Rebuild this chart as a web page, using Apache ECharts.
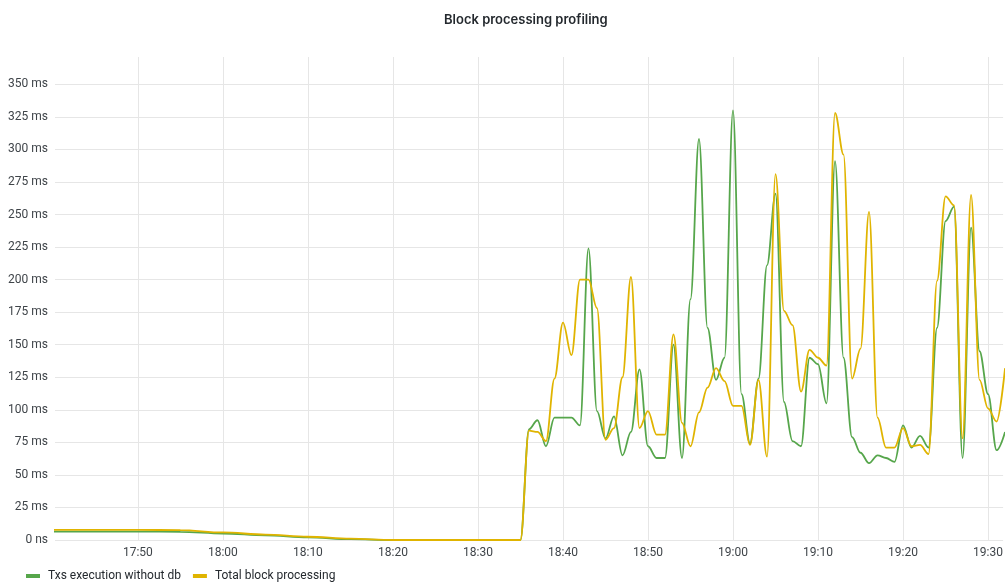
<!DOCTYPE html>
<html>
<head>
<meta charset="utf-8">
<script src="https://cdn.jsdelivr.net/npm/echarts@6/dist/echarts.min.js"></script>
<style>
  html, body { margin: 0; padding: 0; background: #ffffff; }
  #chart { width: 1006px; height: 584px; }
</style>
</head>
<body>
<div id="chart"></div>
<script>
const titleText = 'Block processing profiling';
const seriesNames = ['Txs execution without db', 'Total block processing'];
const seriesColors = ['#56A64B', '#E0B400'];

const times = [
  '17:40','17:45','17:50','17:55','18:00','18:05','18:10','18:15','18:20','18:25','18:30',
  '18:35','18:36','18:37','18:38','18:39','18:40','18:41','18:42','18:43','18:44',
  '18:45','18:46','18:47','18:48','18:49','18:50','18:51','18:52','18:53','18:54',
  '18:55','18:56','18:57','18:58','18:59','19:00','19:01','19:02','19:03','19:04',
  '19:05','19:06','19:07','19:08','19:09','19:10','19:11','19:12','19:13','19:14',
  '19:15','19:16','19:17','19:18','19:19','19:20','19:21','19:22','19:23','19:24',
  '19:25','19:26','19:27','19:28','19:29','19:30','19:31','19:32'
];

const txsExecution = [
  6.5, 6.5, 6.5, 6.3, 5.0, 3.6, 2.0, 0.6, 0, 0, 0,
  0, 85, 92, 72, 94, 94, 94, 88, 224, 99,
  78, 95, 65, 83, 131, 72, 63, 63, 150, 63,
  185, 308, 163, 123, 140, 330, 112, 74, 124, 211,
  266, 106, 76, 72, 140, 135, 105, 291, 140, 79,
  67, 59, 65, 63, 60, 88, 71, 80, 71, 163,
  245, 256, 63, 240, 145, 112, 69, 83
];

const totalBlock = [
  7.8, 7.8, 7.8, 7.6, 5.8, 4.2, 2.5, 1.0, 0, 0, 0,
  0, 84, 83, 76, 124, 167, 142, 200, 200, 178,
  77, 86, 125, 202, 86, 99, 81, 81, 158, 90,
  72, 98, 117, 132, 122, 103, 103, 73, 123, 64,
  281, 176, 165, 114, 146, 140, 134, 328, 296, 124,
  147, 252, 94, 71, 71, 86, 72, 73, 66, 199,
  264, 257, 78, 265, 123, 101, 91, 132
];

const xTickLabels = ['17:50', '18:00', '18:10', '18:20', '18:30', '18:40', '18:50', '19:00', '19:10', '19:20', '19:30'];
const xRange = ['17:40:15', '19:31:46'];
const yMax = 371;
const yInterval = 25;

// minutes since midnight
function toMin(s) {
  const p = s.split(':').map(Number);
  return p[0] * 60 + p[1] + (p[2] || 0) / 60;
}
function pad(n) { return (n < 10 ? '0' : '') + n; }
function fmtMin(v) {
  const m = Math.round(v);
  return pad(Math.floor(m / 60)) + ':' + pad(m % 60);
}

const xTicks = xTickLabels.map(toMin);

const chart = echarts.init(document.getElementById('chart'), null, { renderer: 'canvas' });
const fontFamily = 'Roboto, "Noto Sans", sans-serif';

chart.setOption({
  animation: false,
  backgroundColor: '#ffffff',
  title: {
    text: titleText,
    left: 439,
    top: 9,
    textStyle: { fontFamily: 'Inter, Roboto, sans-serif', fontSize: 13, fontWeight: 600, color: '#24292e' }
  },
  legend: {
    left: 21,
    top: 565,
    icon: 'rect',
    itemWidth: 14,
    itemHeight: 4,
    itemGap: 12,
    textStyle: { fontFamily: fontFamily, fontSize: 12, color: '#24292e', padding: [0, 0, 0, 3] },
    data: seriesNames
  },
  grid: { left: 55, right: 2, top: 57, bottom: 44, containLabel: false },
  xAxis: {
    type: 'value',
    min: toMin(xRange[0]),
    max: toMin(xRange[1]),
    axisLine: { show: false },
    axisTick: { show: false, customValues: xTicks },
    axisLabel: {
      fontFamily: fontFamily, fontSize: 12, color: '#3f4449', margin: 7,
      customValues: xTicks,
      formatter: function (v) { return fmtMin(v); }
    },
    splitLine: { show: true, lineStyle: { color: '#e6e6e6', width: 1 } }
  },
  yAxis: {
    type: 'value',
    min: 0,
    max: yMax,
    interval: yInterval,
    axisLine: { show: false },
    axisTick: { show: false },
    axisLabel: {
      fontFamily: fontFamily, fontSize: 12, color: '#3f4449', margin: 7,
      showMaxLabel: false,
      formatter: function (v) { return v === 0 ? '0 ns' : v + ' ms'; }
    },
    splitLine: { show: true, showMaxLine: false, lineStyle: { color: '#e6e6e6', width: 1 } }
  },
  series: [
    {
      name: seriesNames[0], type: 'line', showSymbol: false, smooth: 0.35, smoothMonotone: 'x',
      itemStyle: { color: seriesColors[0] }, lineStyle: { color: seriesColors[0], width: 1.8 },
      data: times.map((t, i) => [toMin(t), txsExecution[i]])
    },
    {
      name: seriesNames[1], type: 'line', showSymbol: false, smooth: 0.35, smoothMonotone: 'x',
      itemStyle: { color: seriesColors[1] }, lineStyle: { color: seriesColors[1], width: 1.8 },
      data: times.map((t, i) => [toMin(t), totalBlock[i]])
    }
  ]
});
</script>
</body>
</html>
